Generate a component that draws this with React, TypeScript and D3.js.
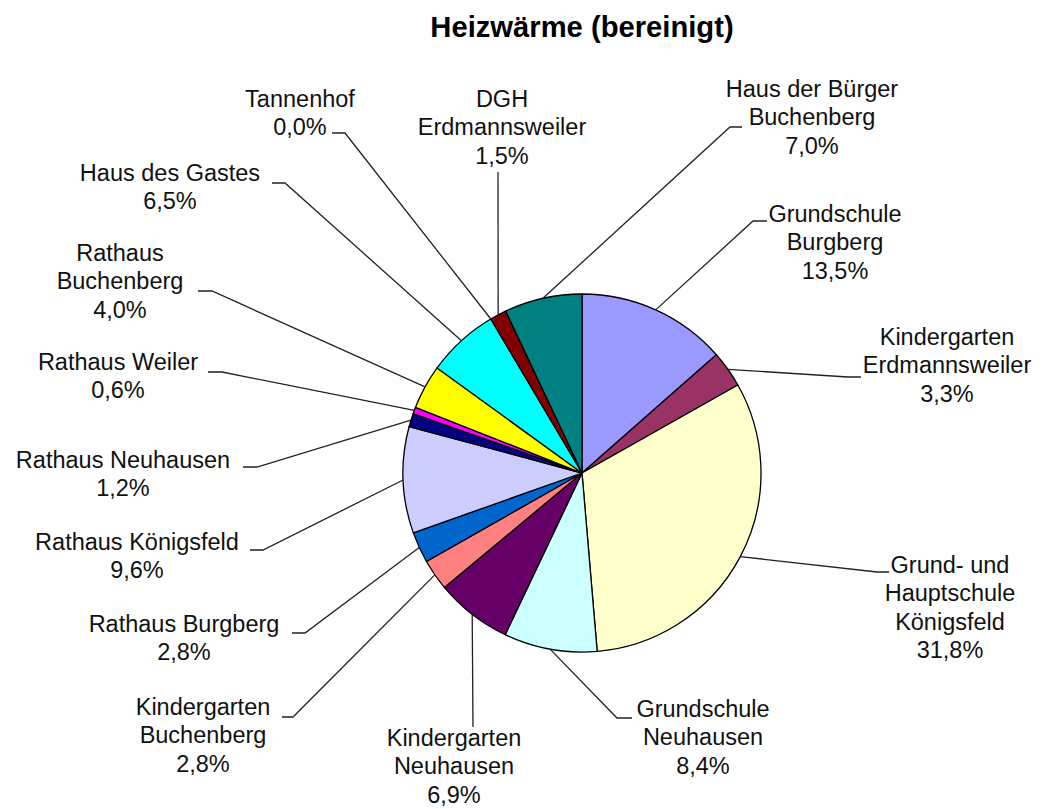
import React from "react";
import * as d3 from "d3";

const categories = [
  "Grundschule\nBurgberg",
  "Kindergarten\nErdmannsweiler",
  "Grund- und\nHauptschule\nKönigsfeld",
  "Grundschule\nNeuhausen",
  "Kindergarten\nNeuhausen",
  "Kindergarten\nBuchenberg",
  "Rathaus Burgberg",
  "Rathaus Königsfeld",
  "Rathaus Neuhausen",
  "Rathaus Weiler",
  "Rathaus\nBuchenberg",
  "Haus des Gastes",
  "Tannenhof",
  "DGH\nErdmannsweiler",
  "Haus der Bürger\nBuchenberg",
];

const values = [13.5, 3.3, 31.8, 8.4, 6.9, 2.8, 2.8, 9.6, 1.2, 0.6, 4.0, 6.5, 0.0, 1.5, 7.0];

const colors = [
  "#9999FF", "#993366", "#FFFFCC", "#CCFFFF", "#660066",
  "#FF8080", "#0066CC", "#CCCCFF", "#000080", "#FF00FF",
  "#FFFF00", "#00FFFF", "#800080", "#800000", "#008080",
];

// label layout: [text center x, first baseline y, elbow x, elbow y, stub end x]
const labelLayout: [number, number, number, number, number][] = [
  [835, 222, 753, 221, 767],
  [947, 345, 848, 377, 861],
  [950, 573, 877, 572, 889],
  [703, 717, 617, 718, 632],
  [454, 746, 473, 727, 473],
  [203, 715, 293, 717, 282],
  [184, 632, 305, 633, 292],
  [137, 550, 263, 550, 250],
  [123, 468, 257, 467, 243],
  [118, 370, 222, 372, 208],
  [120, 261, 212, 291, 198],
  [170, 181, 285, 183, 272],
  [300, 107, 345, 133, 332],
  [502, 107, 498, 172, 498],
  [812, 97, 730, 127, 742],
];

const title = "Heizwärme (bereinigt)";

const W = 1044;
const H = 809;
const CX = 582;
const CY = 473;
const R = 179;
const FONT = "'Liberation Sans', Arial, Helvetica, sans-serif";
const LINE_H = 28.3;

export default function App() {
  const pie = d3.pie<number>().sort(null).value((d) => d)(values);
  const arc = d3.arc<d3.PieArcDatum<number>>().innerRadius(0).outerRadius(R);
  const edgeArc = d3.arc<d3.PieArcDatum<number>>().innerRadius(R).outerRadius(R);
  const fmt = d3.format(".1f");

  return (
    <svg
      width={W}
      height={H}
      style={{ position: "absolute", left: 0, top: 0, background: "#fff" }}
      fontFamily={FONT}
    >
      <rect x={0} y={0} width={W} height={H} fill="#fff" />
      <text x={582} y={37} textAnchor="middle" fontSize={29.2} fontWeight="bold" fill="#000">
        {title}
      </text>
      <g transform={`translate(${CX},${CY})`}>
        {pie.map((d, i) =>
          d.value > 0 ? (
            <path key={i} d={arc(d) || ""} fill={colors[i]} stroke="#000" strokeWidth={1.3} strokeLinejoin="round" />
          ) : null
        )}
      </g>
      {pie.map((d, i) => {
        const [ex, ey] = edgeArc.centroid(d);
        const [, , bx, by, sx] = labelLayout[i];
        const pts = `${CX + ex},${CY + ey} ${bx},${by} ${sx},${by}`;
        return <polyline key={"l" + i} points={pts} fill="none" stroke="#222" strokeWidth={1.3} />;
      })}
      {pie.map((d, i) => {
        const [tx, ty] = labelLayout[i];
        const lines = categories[i].split("\n").concat([fmt(values[i]).replace(".", ",") + "%"]);
        return (
          <text key={"t" + i} x={tx} y={ty} textAnchor="middle" fontSize={23.5} fill="#111">
            {lines.map((ln, j) => (
              <tspan key={j} x={tx} y={ty + j * LINE_H}>
                {ln}
              </tspan>
            ))}
          </text>
        );
      })}
    </svg>
  );
}
